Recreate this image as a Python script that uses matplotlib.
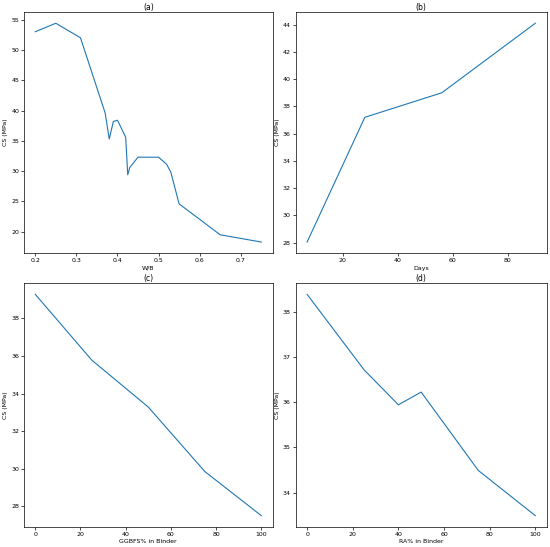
import matplotlib
matplotlib.use("Agg")
import matplotlib.pyplot as plt

# (a) CS vs W/B
wb = [0.20, 0.25, 0.31, 0.37, 0.38, 0.39, 0.40, 0.42, 0.425, 0.43, 0.45, 0.50, 0.52, 0.53, 0.55, 0.65, 0.75]
cs_wb = [53.0, 54.4, 52.0, 39.6, 35.3, 38.2, 38.4, 35.6, 29.4, 30.6, 32.3, 32.3, 31.1, 29.8, 24.6, 19.5, 18.3]

# (b) CS vs age
days = [7, 28, 56, 90]
cs_days = [28.05, 37.2, 39.0, 44.1]

# (c) CS vs GGBFS content
ggbfs = [0, 25, 50, 75, 100]
cs_ggbfs = [39.28, 35.78, 33.28, 29.85, 27.5]

# (d) CS vs RA content
ra = [0, 25, 40, 50, 75, 100]
cs_ra = [38.38, 36.71, 35.94, 36.22, 34.49, 33.49]

plt.rcParams['font.size'] = 4.5

fig = plt.figure(figsize=(5.5, 5.47), dpi=100)

panels = [
    ([0.0436, 0.5375, 0.452, 0.440], wb, cs_wb, 'W/B', '(a)'),
    ([0.5376, 0.5375, 0.4564, 0.440], days, cs_days, 'Days', '(b)'),
    ([0.0436, 0.0371, 0.452, 0.445], ggbfs, cs_ggbfs, 'GGBFS% in Binder', '(c)'),
    ([0.5376, 0.0371, 0.4564, 0.445], ra, cs_ra, 'RA% in Binder', '(d)'),
]

for rect, x, y, xlab, title in panels:
    ax = fig.add_axes(rect)
    ax.plot(x, y, color='tab:blue', linewidth=0.8)
    ax.set_xlabel(xlab, fontsize=4.5, labelpad=2)
    ax.set_ylabel('CS (MPa)', fontsize=4.5, labelpad=2)
    ax.set_title(title, fontsize=5.5, pad=2)
    ax.tick_params(labelsize=4.5, length=2, width=0.5, pad=1.5)
    for s in ax.spines.values():
        s.set_linewidth(0.5)

fig.savefig('out.png', dpi=100)
